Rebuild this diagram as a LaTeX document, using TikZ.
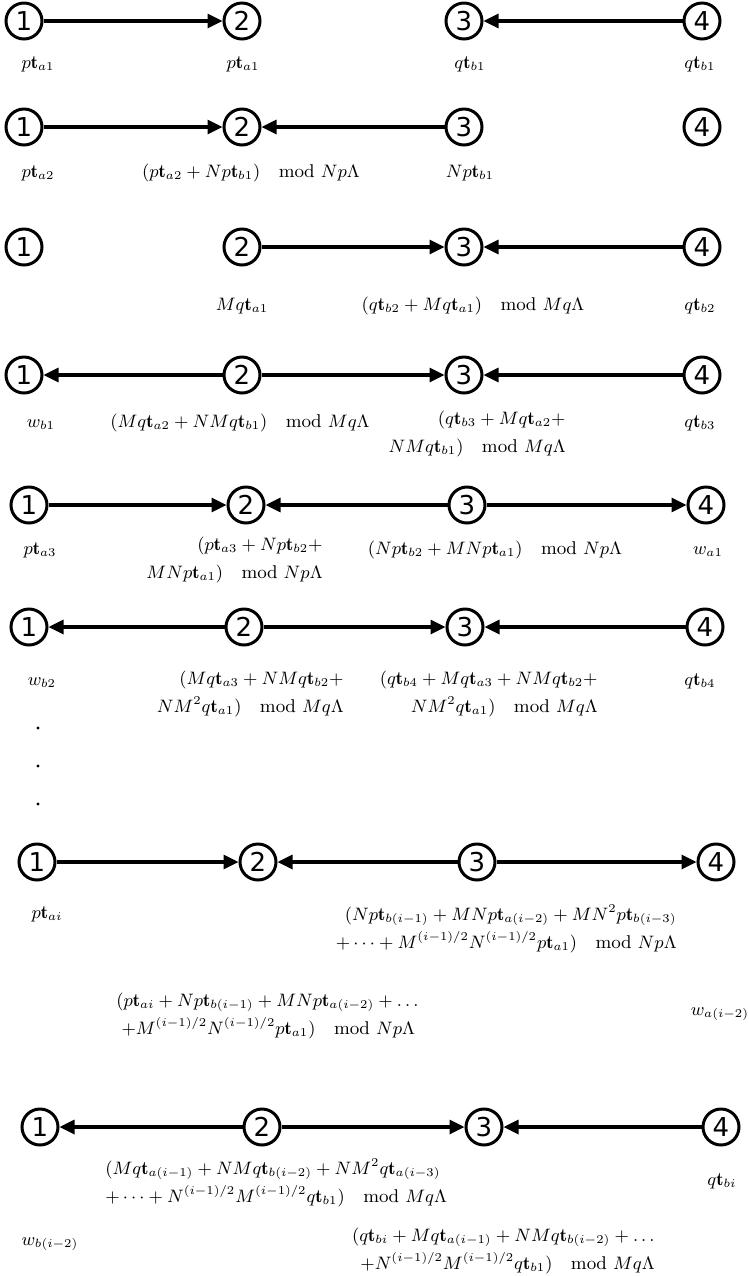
\documentclass[tikz,border=0pt]{standalone}
\usepackage{amsmath}
\usepackage{fontspec}
\newfontfamily\dsans{DejaVu Sans}
\usetikzlibrary{shapes.geometric,arrows.meta}
\newcommand{\md}{\quad\mathrm{mod}\,\,}
\newcommand{\tb}{\mathbf{t}}
\begin{document}
\begin{tikzpicture}[x=0.5pt,y=-0.5pt,
 vtx/.style={circle, draw, line width=1.5pt, minimum size=18pt, inner sep=0pt, font=\dsans\fontsize{13}{14}\selectfont},
 arr/.style={line width=1.6pt, -{Triangle[length=7.5pt,width=7pt]}},
 lab/.style={inner sep=0pt, font=\fontsize{9.25}{14}\selectfont, anchor=base},
 labr/.style={lab, anchor=base east, align=right},
 labl/.style={lab, anchor=base west, align=left},
]
\useasboundingbox (0,0) rectangle (749,1276);
% Row 1
\node[vtx] (a1) at (24,21) {1};
\node[vtx] (a2) at (242,21) {2};
\node[vtx] (a3) at (464,21) {3};
\node[vtx] (a4) at (702,21) {4};
\draw[arr] (a1) -- (a2);
\draw[arr] (a4) -- (a3);
\node[lab] (la1) at (38,68) {$p\tb_{a1}$};
\node[lab] (la2) at (243,68) {$p\tb_{a1}$};
\node[lab] (la3) at (470,68) {$q\tb_{b1}$};
\node[lab] (la4) at (700,68) {$q\tb_{b1}$};
% Row 2
\node[vtx] (b1) at (24,127) {1};
\node[vtx] (b2) at (242,127) {2};
\node[vtx] (b3) at (464,127) {3};
\node[vtx] (b4) at (702,127) {4};
\draw[arr] (b1) -- (b2);
\draw[arr] (b3) -- (b2);
\node[lab] (lb1) at (38,177) {$p\tb_{a2}$};
\node[lab] (lb2) at (251,177) {$(p\tb_{a2}+Np\tb_{b1})\md Np\Lambda$};
\node[lab] (lb3) at (470,177) {$Np\tb_{b1}$};
% Row 3
\node[vtx] (c1) at (24,247) {1};
\node[vtx] (c2) at (242,247) {2};
\node[vtx] (c3) at (464,247) {3};
\node[vtx] (c4) at (702,247) {4};
\draw[arr] (c2) -- (c3);
\draw[arr] (c4) -- (c3);
\node[lab] (lc2) at (242,310) {$Mq\tb_{a1}$};
\node[lab] (lc3) at (473,310) {$(q\tb_{b2}+Mq\tb_{a1})\md Mq\Lambda$};
\node[lab] (lc4) at (700,310) {$q\tb_{b2}$};
% Row 4
\node[vtx] (d1) at (24,375) {1};
\node[vtx] (d2) at (242,375) {2};
\node[vtx] (d3) at (464,375) {3};
\node[vtx] (d4) at (702,375) {4};
\draw[arr] (d2) -- (d1);
\draw[arr] (d2) -- (d3);
\draw[arr] (d4) -- (d3);
\node[lab] (ld1) at (41,427) {$w_{b1}$};
\node[lab] (ld2) at (240,427) {$(Mq\tb_{a2}+NMq\tb_{b1})\md Mq\Lambda$};
\node[labr] (ld3) at (566,452) {$(q\tb_{b3}+Mq\tb_{a2}+$\\$NMq\tb_{b1})\md Mq\Lambda$};
\node[lab] (ld4) at (700,427) {$q\tb_{b3}$};
% Row 5
\node[vtx] (e1) at (29,505) {1};
\node[vtx] (e2) at (246,505) {2};
\node[vtx] (e3) at (467,505) {3};
\node[vtx] (e4) at (706,505) {4};
\draw[arr] (e1) -- (e2);
\draw[arr] (e3) -- (e2);
\draw[arr] (e3) -- (e4);
\node[lab] (le1) at (40,554) {$p\tb_{a3}$};
\node[labr] (le2) at (323,578) {$(p\tb_{a3}+Np\tb_{b2}+$\\$MNp\tb_{a1})\md Np\Lambda$};
\node[lab] (le3) at (495,554) {$(Np\tb_{b2}+MNp\tb_{a1})\md Np\Lambda$};
\node[lab] (le4) at (708,554) {$w_{a1}$};
% Row 6
\node[vtx] (f1) at (29,627) {1};
\node[vtx] (f2) at (244,627) {2};
\node[vtx] (f3) at (465,627) {3};
\node[vtx] (f4) at (705,627) {4};
\draw[arr] (f2) -- (f1);
\draw[arr] (f2) -- (f3);
\draw[arr] (f4) -- (f3);
\node[lab] (lf1) at (42,685) {$w_{b2}$};
\node[labr] (lf2) at (344,712) {$(Mq\tb_{a3}+NMq\tb_{b2}+$\\$NM^2q\tb_{a1})\md Mq\Lambda$};
\node[labr] (lf3) at (598,712) {$(q\tb_{b4}+Mq\tb_{a3}+NMq\tb_{b2}+$\\$NM^2q\tb_{a1})\md Mq\Lambda$};
\node[lab] (lf4) at (700,685) {$q\tb_{b4}$};
% dots
\fill (38,728) circle (1.6);
\fill (38,766) circle (1.6);
\fill (38,804) circle (1.6);
% Row 7
\node[vtx] (g1) at (37,862) {1};
\node[vtx] (g2) at (258,862) {2};
\node[vtx] (g3) at (477,862) {3};
\node[vtx] (g4) at (716,862) {4};
\draw[arr] (g1) -- (g2);
\draw[arr] (g3) -- (g2);
\draw[arr] (g3) -- (g4);
\node[lab] (lg1) at (47,918) {$p\tb_{ai}$};
\node[labr] (lg3) at (677,948) {$(Np\tb_{b(i-1)}+MNp\tb_{a(i-2)}+MN^2p\tb_{b(i-3)}$\\$+\cdots+M^{(i-1)/2}N^{(i-1)/2}p\tb_{a1})\md Np\Lambda$};
\node[labl] (lg2) at (116,1034) {$(p\tb_{ai}+Np\tb_{b(i-1)}+MNp\tb_{a(i-2)}+\ldots$\\$\;+M^{(i-1)/2}N^{(i-1)/2}p\tb_{a1})\md Np\Lambda$};
\node[lab] (lg4) at (720,1015) {$w_{a(i-2)}$};
% Row 8
\node[vtx] (h1) at (40,1127) {1};
\node[vtx] (h2) at (262,1127) {2};
\node[vtx] (h3) at (484,1127) {3};
\node[vtx] (h4) at (721,1127) {4};
\draw[arr] (h2) -- (h1);
\draw[arr] (h2) -- (h3);
\draw[arr] (h4) -- (h3);
\node[labl] (lh2) at (105,1202) {$(Mq\tb_{a(i-1)}+NMq\tb_{b(i-2)}+NM^2q\tb_{a(i-3)}$\\$+\cdots+N^{(i-1)/2}M^{(i-1)/2}q\tb_{b1})\md Mq\Lambda$};
\node[lab] (lh4) at (722,1185) {$q\tb_{bi}$};
\node[lab] (lh1) at (50,1245) {$w_{b(i-2)}$};
\node[labr] (lh3) at (655,1269) {$(q\tb_{bi}+Mq\tb_{a(i-1)}+NMq\tb_{b(i-2)}+\ldots$\\$+N^{(i-1)/2}M^{(i-1)/2}q\tb_{b1})\md Mq\Lambda$};
\end{tikzpicture}
\end{document}
